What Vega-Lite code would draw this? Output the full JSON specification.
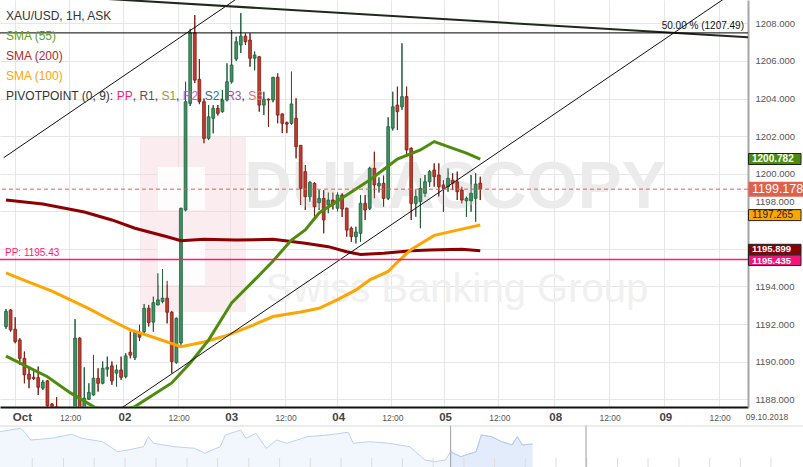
{
"$schema": "https://vega.github.io/schema/vega-lite/v6.json",
"width": 748,
"height": 407,
"autosize": {"type": "none"},
"padding": {"left": 0, "top": 0, "right": 55, "bottom": 60},
"background": "#ffffff",
"config": {"view": {"stroke": null}, "font": "Liberation Sans"},
"datasets": {
"candles": [
{"i":0,"o":1191.87,"h":1192.8,"l":1191.75,"c":1192.67},
{"i":1,"o":1192.75,"h":1192.8,"l":1191.6,"c":1191.69},
{"i":2,"o":1191.73,"h":1192.36,"l":1190.98,"c":1191.07},
{"i":3,"o":1191.16,"h":1191.25,"l":1189.83,"c":1190.18},
{"i":4,"o":1190.18,"h":1190.54,"l":1188.85,"c":1189.3},
{"i":5,"o":1189.33,"h":1189.74,"l":1188.59,"c":1189.07},
{"i":6,"o":1189.17,"h":1189.56,"l":1189.03,"c":1189.1},
{"i":7,"o":1189.15,"h":1189.74,"l":1188.23,"c":1188.64},
{"i":8,"o":1188.59,"h":1189.03,"l":1188.5,"c":1188.91},
{"i":9,"o":1188.98,"h":1189.03,"l":1187.5,"c":1187.65},
{"i":10,"o":1187.74,"h":1187.8,"l":1187.2,"c":1187.61},
{"i":11,"o":1187.6,"h":1188.11,"l":1186.9,"c":1187.2},
{"i":12,"o":1187.2,"h":1187.4,"l":1186.5,"c":1186.8},
{"i":13,"o":1186.8,"h":1187.3,"l":1186.4,"c":1187.0},
{"i":14,"o":1187.0,"h":1187.5,"l":1186.7,"c":1187.3},
{"i":15,"o":1187.3,"h":1192.26,"l":1187.2,"c":1191.25},
{"i":16,"o":1191.25,"h":1191.3,"l":1187.3,"c":1187.5},
{"i":17,"o":1187.5,"h":1189.7,"l":1187.4,"c":1188.06},
{"i":18,"o":1188.0,"h":1188.85,"l":1187.97,"c":1188.37},
{"i":19,"o":1188.23,"h":1190.36,"l":1188.2,"c":1189.12},
{"i":20,"o":1189.12,"h":1189.65,"l":1188.41,"c":1188.85},
{"i":21,"o":1188.85,"h":1190.01,"l":1188.8,"c":1189.65},
{"i":22,"o":1189.6,"h":1190.27,"l":1189.21,"c":1189.7},
{"i":23,"o":1189.78,"h":1190.01,"l":1188.77,"c":1188.98},
{"i":24,"o":1189.39,"h":1189.83,"l":1188.68,"c":1189.56},
{"i":25,"o":1189.56,"h":1190.27,"l":1189.03,"c":1189.17},
{"i":26,"o":1189.21,"h":1190.45,"l":1189.12,"c":1190.31},
{"i":27,"o":1190.5,"h":1191.6,"l":1190.18,"c":1190.35},
{"i":28,"o":1190.22,"h":1191.69,"l":1190.09,"c":1191.57},
{"i":29,"o":1191.57,"h":1191.96,"l":1191.1,"c":1191.3},
{"i":30,"o":1191.6,"h":1193.07,"l":1191.51,"c":1192.84},
{"i":31,"o":1192.84,"h":1193.02,"l":1191.87,"c":1192.08},
{"i":32,"o":1192.1,"h":1193.46,"l":1191.6,"c":1193.14},
{"i":33,"o":1193.02,"h":1194.7,"l":1193.0,"c":1193.29},
{"i":34,"o":1193.2,"h":1194.93,"l":1193.11,"c":1193.38},
{"i":35,"o":1193.38,"h":1194.3,"l":1192.04,"c":1192.63},
{"i":36,"o":1192.63,"h":1192.7,"l":1189.39,"c":1190.01},
{"i":37,"o":1189.95,"h":1192.35,"l":1189.9,"c":1192.31},
{"i":38,"o":1191.0,"h":1198.2,"l":1190.9,"c":1198.16},
{"i":39,"o":1198.07,"h":1204.89,"l":1198.0,"c":1203.83},
{"i":40,"o":1203.74,"h":1207.7,"l":1203.6,"c":1207.5},
{"i":41,"o":1207.5,"h":1208.44,"l":1204.82,"c":1204.98},
{"i":42,"o":1205.02,"h":1206.1,"l":1203.7,"c":1203.83},
{"i":43,"o":1203.83,"h":1204.0,"l":1201.62,"c":1201.88},
{"i":44,"o":1201.88,"h":1203.65,"l":1201.79,"c":1203.03},
{"i":45,"o":1202.95,"h":1203.65,"l":1202.15,"c":1203.48},
{"i":46,"o":1203.48,"h":1203.65,"l":1203.1,"c":1203.21},
{"i":47,"o":1203.3,"h":1204.45,"l":1203.25,"c":1203.92},
{"i":48,"o":1203.92,"h":1205.87,"l":1203.85,"c":1204.89},
{"i":49,"o":1204.89,"h":1207.64,"l":1204.8,"c":1205.78},
{"i":50,"o":1206.1,"h":1207.29,"l":1206.0,"c":1207.02},
{"i":51,"o":1206.85,"h":1208.55,"l":1206.42,"c":1207.32},
{"i":52,"o":1207.32,"h":1207.46,"l":1206.85,"c":1207.02},
{"i":53,"o":1207.11,"h":1207.47,"l":1205.69,"c":1206.14},
{"i":54,"o":1206.14,"h":1206.5,"l":1205.5,"c":1206.31},
{"i":55,"o":1206.22,"h":1206.25,"l":1203.3,"c":1203.65},
{"i":56,"o":1203.65,"h":1204.36,"l":1203.12,"c":1203.96},
{"i":57,"o":1203.96,"h":1204.0,"l":1202.5,"c":1203.92},
{"i":58,"o":1203.92,"h":1205.15,"l":1203.8,"c":1205.13},
{"i":59,"o":1205.13,"h":1205.34,"l":1202.68,"c":1203.12},
{"i":60,"o":1203.18,"h":1203.2,"l":1202.16,"c":1202.68},
{"i":61,"o":1202.71,"h":1202.77,"l":1202.16,"c":1202.64},
{"i":62,"o":1202.68,"h":1205.43,"l":1202.6,"c":1203.71},
{"i":63,"o":1202.95,"h":1204.01,"l":1200.82,"c":1201.44},
{"i":64,"o":1201.51,"h":1201.51,"l":1198.34,"c":1199.22},
{"i":65,"o":1200.11,"h":1200.46,"l":1198.07,"c":1198.78},
{"i":66,"o":1198.78,"h":1199.6,"l":1198.5,"c":1199.54},
{"i":67,"o":1199.49,"h":1199.54,"l":1197.63,"c":1198.24},
{"i":68,"o":1198.46,"h":1199.13,"l":1198.07,"c":1198.69},
{"i":69,"o":1198.69,"h":1199.13,"l":1196.83,"c":1197.54},
{"i":70,"o":1198.34,"h":1199.0,"l":1197.9,"c":1198.6},
{"i":71,"o":1198.6,"h":1199.0,"l":1198.1,"c":1198.34},
{"i":72,"o":1198.16,"h":1199.0,"l":1198.0,"c":1198.87},
{"i":73,"o":1198.87,"h":1198.95,"l":1197.7,"c":1198.12},
{"i":74,"o":1198.16,"h":1198.2,"l":1196.65,"c":1197.0},
{"i":75,"o":1197.1,"h":1197.18,"l":1196.38,"c":1196.65},
{"i":76,"o":1196.65,"h":1197.18,"l":1196.29,"c":1196.9},
{"i":77,"o":1196.83,"h":1198.87,"l":1196.38,"c":1198.43},
{"i":78,"o":1198.42,"h":1198.87,"l":1197.54,"c":1198.07},
{"i":79,"o":1198.16,"h":1200.37,"l":1198.07,"c":1200.29},
{"i":80,"o":1200.29,"h":1201.17,"l":1198.69,"c":1199.4},
{"i":81,"o":1199.35,"h":1199.8,"l":1199.0,"c":1199.49},
{"i":82,"o":1199.49,"h":1199.9,"l":1198.24,"c":1198.69},
{"i":83,"o":1198.69,"h":1203.0,"l":1198.6,"c":1202.5},
{"i":84,"o":1202.42,"h":1204.36,"l":1202.3,"c":1203.56},
{"i":85,"o":1203.65,"h":1204.63,"l":1202.32,"c":1203.3},
{"i":86,"o":1203.56,"h":1206.94,"l":1203.4,"c":1204.1},
{"i":87,"o":1204.1,"h":1204.63,"l":1200.9,"c":1201.26},
{"i":88,"o":1201.35,"h":1201.4,"l":1197.54,"c":1198.42},
{"i":89,"o":1198.42,"h":1199.13,"l":1197.71,"c":1198.78},
{"i":90,"o":1198.51,"h":1199.76,"l":1197.1,"c":1199.22},
{"i":91,"o":1198.96,"h":1199.93,"l":1198.76,"c":1199.57},
{"i":92,"o":1199.57,"h":1200.2,"l":1199.3,"c":1200.11},
{"i":93,"o":1200.2,"h":1200.55,"l":1199.31,"c":1199.84},
{"i":94,"o":1199.93,"h":1200.55,"l":1198.78,"c":1199.31},
{"i":95,"o":1199.4,"h":1199.66,"l":1197.98,"c":1199.22},
{"i":96,"o":1199.31,"h":1200.29,"l":1199.04,"c":1199.76},
{"i":97,"o":1199.66,"h":1200.02,"l":1199.13,"c":1199.49},
{"i":98,"o":1199.57,"h":1200.11,"l":1198.6,"c":1199.04},
{"i":99,"o":1199.13,"h":1199.31,"l":1198.42,"c":1198.6},
{"i":100,"o":1198.56,"h":1198.78,"l":1197.71,"c":1198.69},
{"i":101,"o":1198.56,"h":1199.93,"l":1197.98,"c":1198.96},
{"i":102,"o":1198.69,"h":1200.02,"l":1197.45,"c":1199.45},
{"i":103,"o":1199.5,"h":1199.84,"l":1198.6,"c":1199.18}
],
"sma55": [
{"i":0,"v":1190.3},{"i":9,"v":1189.2},{"i":14,"v":1188.34},{"i":19,"v":1187.61},{"i":23,"v":1187.22},{"i":28,"v":1187.61},{"i":36,"v":1188.87},{"i":40,"v":1189.93},{"i":44,"v":1191.15},{"i":49,"v":1193.12},{"i":54,"v":1194.35},{"i":58,"v":1195.36},{"i":62,"v":1196.47},{"i":65,"v":1197.01},{"i":68,"v":1197.91},{"i":73,"v":1198.71},{"i":79,"v":1199.67},{"i":85,"v":1200.78},{"i":90,"v":1201.26},{"i":93,"v":1201.71},{"i":96,"v":1201.44},{"i":100,"v":1201.1},{"i":103,"v":1200.78}
],
"sma100": [
{"i":0,"v":1194.72},{"i":4,"v":1194.33},{"i":10,"v":1193.75},{"i":18,"v":1192.82},{"i":23,"v":1192.18},{"i":27,"v":1191.69},{"i":32,"v":1191.3},{"i":38,"v":1190.8},{"i":43,"v":1191.05},{"i":48,"v":1191.4},{"i":53,"v":1191.88},{"i":58,"v":1192.4},{"i":64,"v":1192.64},{"i":68,"v":1192.84},{"i":72,"v":1193.3},{"i":76,"v":1193.82},{"i":79,"v":1194.35},{"i":83,"v":1194.8},{"i":85,"v":1195.3},{"i":88,"v":1195.97},{"i":93,"v":1196.72},{"i":98,"v":1197.0},{"i":103,"v":1197.27}
],
"sma200": [
{"i":0,"v":1198.6},{"i":8,"v":1198.39},{"i":17,"v":1197.96},{"i":23,"v":1197.54},{"i":28,"v":1197.1},{"i":35,"v":1196.65},{"i":38,"v":1196.44},{"i":43,"v":1196.51},{"i":50,"v":1196.47},{"i":58,"v":1196.51},{"i":65,"v":1196.3},{"i":70,"v":1196.12},{"i":74,"v":1195.85},{"i":77,"v":1195.7},{"i":82,"v":1195.77},{"i":88,"v":1195.9},{"i":92,"v":1195.94},{"i":99,"v":1195.98},{"i":103,"v":1195.9}
],
"trend": [
{"line":"up1","i":-0.5,"p":1200.85},{"line":"up1","i":52,"p":1209.62},
{"line":"up2","i":20,"p":1186.69},{"line":"up2","i":162,"p":1210.31},
{"line":"down","i":21,"p":1209.31},{"line":"down","i":162,"p":1207.24}
],
"levels": [
{"name":"fib50","p":1207.49,"label":"50.00 % (1207.49)"},
{"name":"PP","p":1195.435,"label":"PP: 1195.43"},
{"name":"last","p":1199.178,"label":"1199.178"}
],
"boxes": [
{"name":"sma55","p":1200.782},
{"name":"last","p":1199.178},
{"name":"sma100","p":1197.265},
{"name":"sma200","p":1195.899},
{"name":"pp","p":1195.435}
],
"nav": [
{"n":0,"v":35.3},{"n":1.27,"v":37},{"n":2.55,"v":38.7},{"n":3.19,"v":33.7},{"n":3.82,"v":27},{"n":6.38,"v":28.7},{"n":8.93,"v":32.7},{"n":10.2,"v":28.7},{"n":12.75,"v":25.3},{"n":14.67,"v":15.3},{"n":15.94,"v":17},{"n":17.86,"v":20.3},{"n":18.49,"v":30.3},{"n":19.13,"v":23.7},{"n":21.68,"v":20.3},{"n":24.23,"v":18.7},{"n":25.5,"v":13.7},{"n":27.42,"v":20.3},{"n":28.06,"v":32},{"n":29.33,"v":35.3},{"n":29.97,"v":37},{"n":30.61,"v":28.7},{"n":31.88,"v":33.7},{"n":33.16,"v":18.7},{"n":34.43,"v":27},{"n":35.71,"v":23.7},{"n":38.26,"v":30.3},{"n":40.81,"v":32},{"n":43.36,"v":34.7},{"n":44.0,"v":23.7},{"n":45.91,"v":25.3},{"n":48.46,"v":23.7},{"n":51.01,"v":20.3},{"n":52.93,"v":7},{"n":54.2,"v":5.3},{"n":55.48,"v":7},{"n":56.11,"v":15.3},{"n":57.39,"v":10.3},{"n":59.3,"v":15.3},{"n":59.94,"v":32},{"n":61.22,"v":30.3},{"n":62.49,"v":25.3},{"n":63.76,"v":22},{"n":64.41,"v":30.3},{"n":65.04,"v":22},{"n":66.31,"v":23}
],
"navticks": [
{"n":4.02},{"n":7.91},{"n":11.73},{"n":15.57},{"n":19.43},{"n":23.29},{"n":27.1},{"n":30.98},{"n":34.82},{"n":38.64},{"n":42.47},{"n":46.29},{"n":50.12},{"n":53.95},{"n":57.78},{"n":61.59},{"n":65.42},{"n":69.24},{"n":73.08},{"n":76.9},{"n":80.7},{"n":84.56},{"n":88.38},{"n":92.2},{"n":96.01}
]
},
"layer": [
{
"layer": [
{
"data": {"name": "candles"},
"mark": {"type": "rule", "strokeWidth": 1, "clip": true},
"encoding": {
"x": {"field": "i", "type": "quantitative", "scale": {"domain": [-0.214, 160.06], "nice": false, "zero": false},
"axis": {"values": [1.93,13.71,25.5,37.28,48.7,60.49,71.93,83.71,95.14,106.92,119.07,130.86,142.98,154.77], "title": null, "grid": true, "gridColor": "#e6e6e6", "ticks": false, "tickSize": 0, "domainColor": "#111111", "domainWidth": 2,
"labelExpr": "['Oct','12:00','02','12:00','03','12:00','04','12:00','05','12:00','08','12:00','09','12:00'][indexof([1.93,13.71,25.5,37.28,48.7,60.49,71.93,83.71,95.14,106.92,119.07,130.86,142.98,154.77], datum.value)]",
"labelFontSize": {"condition": {"test": "indexof([13.71,37.28,60.49,83.71,106.92,130.86,154.77], datum.value) >= 0", "value": 8.5}, "value": 11.5},
"labelFontWeight": {"condition": {"test": "indexof([13.71,37.28,60.49,83.71,106.92,130.86,154.77], datum.value) >= 0", "value": "normal"}, "value": "bold"},
"labelColor": {"condition": {"test": "indexof([13.71,37.28,60.49,83.71,106.92,130.86,154.77], datum.value) >= 0", "value": "#555555"}, "value": "#444444"},
"labelOffset": {"condition": {"test": "datum.value < 5", "value": 7}, "value": 1},
"labelBaseline": "middle", "labelPadding": 10, "labelOverlap": false, "labelFlush": false, "labelBound": false}},
"y": {"field": "l", "type": "quantitative", "scale": {"domain": [1187.59, 1209.24], "nice": false, "zero": false},
"axis": {"orient": "right", "values": [1188,1190,1192,1194,1196,1198,1200,1202,1204,1206,1208], "format": ".3f", "labelExpr": "datum.value == 1196 ? '' : datum.label", "title": null, "grid": true, "gridColor": "#e6e6e6", "ticks": false, "tickSize": 0, "domainColor": "#a6a6a6", "domainWidth": 2, "labelFontSize": 9.5, "labelColor": "#555555", "labelPadding": 7,
"labelOffset": {"condition": {"test": "datum.value == 1198", "value": -10}, "value": 0}, "labelOverlap": false, "labelFlush": false}},
"y2": {"field": "h"},
"color": {"condition": {"test": "datum.c >= datum.o", "value": "#1f5e3b"}, "value": "#7b2015"}
}
},
{"data": {"values": [{}]}, "mark": {"type": "rect", "x": 140, "x2": 246, "y": 137, "y2": 312, "color": "#f6cfd6", "opacity": 0.4}, "encoding": {}},
{"data": {"values": [{}]}, "mark": {"type": "rect", "x": 158, "x2": 205, "y": 167, "y2": 210, "color": "#ffffff", "opacity": 0.85}, "encoding": {}},
{"data": {"values": [{}]}, "mark": {"type": "rect", "x": 158, "x2": 205, "y": 240, "y2": 285, "color": "#ffffff", "opacity": 0.85}, "encoding": {}},
{"data": {"values": [{"t": "DUKASCOPY"}]}, "mark": {"type": "text", "x": 455, "y": 188, "align": "center", "baseline": "middle", "font": "Liberation Sans", "fontWeight": "bold", "fontSize": 66, "color": "#ebebeb"}, "encoding": {"text": {"field": "t"}}},
{"data": {"values": [{"t": "Swiss Banking Group"}]}, "mark": {"type": "text", "x": 457, "y": 290, "align": "center", "baseline": "middle", "font": "Liberation Sans", "fontSize": 40, "color": "#f0f0f0"}, "encoding": {"text": {"field": "t"}}},
{
"data": {"name": "candles"},
"mark": {"type": "rule", "strokeWidth": 1, "clip": true},
"encoding": {
"x": {"field": "i", "type": "quantitative"},
"y": {"field": "l", "type": "quantitative"},
"y2": {"field": "h"},
"color": {"condition": {"test": "datum.c >= datum.o", "value": "#1f5e3b"}, "value": "#7b2015"}
}
},
{
"data": {"name": "candles"},
"mark": {"type": "bar", "size": 2.8, "strokeWidth": 0.8, "clip": true},
"encoding": {
"x": {"field": "i", "type": "quantitative"},
"y": {"field": "o", "type": "quantitative"},
"y2": {"field": "c"},
"fill": {"condition": {"test": "datum.c >= datum.o", "value": "#3d9162"}, "value": "#c23b2c"},
"stroke": {"condition": {"test": "datum.c >= datum.o", "value": "#1f5e3b"}, "value": "#7b2015"}
}
},
{"data": {"name": "sma200"}, "mark": {"type": "line", "color": "#8e0000", "strokeWidth": 3, "clip": true},
"encoding": {"x": {"field": "i", "type": "quantitative"}, "y": {"field": "v", "type": "quantitative"}}},
{"data": {"name": "sma100"}, "mark": {"type": "line", "color": "#ffa500", "strokeWidth": 3, "clip": true},
"encoding": {"x": {"field": "i", "type": "quantitative"}, "y": {"field": "v", "type": "quantitative"}}},
{"data": {"name": "sma55"}, "mark": {"type": "line", "color": "#4d8c0c", "strokeWidth": 3, "clip": true},
"encoding": {"x": {"field": "i", "type": "quantitative"}, "y": {"field": "v", "type": "quantitative"}}},
{"data": {"name": "trend"}, "transform": [{"filter": "datum.line != 'down'"}], "mark": {"type": "line", "color": "#111111", "strokeWidth": 1, "clip": true},
"encoding": {"x": {"field": "i", "type": "quantitative"}, "y": {"field": "p", "type": "quantitative"}, "detail": {"field": "line"}}},
{"data": {"name": "trend"}, "transform": [{"filter": "datum.line == 'down'"}], "mark": {"type": "line", "color": "#1c2a1c", "strokeWidth": 2, "clip": true},
"encoding": {"x": {"field": "i", "type": "quantitative"}, "y": {"field": "p", "type": "quantitative"}}},
{"data": {"name": "levels"}, "transform": [{"filter": "datum.name == 'fib50'"}], "mark": {"type": "rule", "color": "#000000", "strokeWidth": 1},
"encoding": {"y": {"field": "p", "type": "quantitative"}}},
{"data": {"name": "levels"}, "transform": [{"filter": "datum.name == 'fib50'"}], "mark": {"type": "text", "x": 744, "align": "right", "baseline": "bottom", "dy": -2, "fontSize": 10, "color": "#111111"},
"encoding": {"y": {"field": "p", "type": "quantitative"}, "text": {"field": "label"}}},
{"data": {"name": "levels"}, "transform": [{"filter": "datum.name == 'last'"}], "mark": {"type": "rule", "color": "#e0604b", "strokeWidth": 1, "strokeDash": [4, 3]},
"encoding": {"y": {"field": "p", "type": "quantitative"}}},
{"data": {"name": "levels"}, "transform": [{"filter": "datum.name == 'PP'"}], "mark": {"type": "rule", "color": "#ff1a75", "strokeWidth": 1.5},
"encoding": {"y": {"field": "p", "type": "quantitative"}}},
{"data": {"name": "levels"}, "transform": [{"filter": "datum.name == 'PP'"}], "mark": {"type": "text", "x": 5, "align": "left", "baseline": "bottom", "dy": -2, "fontSize": 10, "color": "#ff1a75"},
"encoding": {"y": {"field": "p", "type": "quantitative"}, "text": {"field": "label"}}},
{"data": {"values": [{"t": "XAU/USD, 1H, ASK"}]}, "mark": {"type": "text", "x": 6, "y": 16, "align": "left", "baseline": "middle", "fontSize": 12, "color": "#333333"}, "encoding": {"text": {"field": "t"}}},
{"data": {"values": [{"t": "SMA (55)"}]}, "mark": {"type": "text", "x": 6, "y": 36, "align": "left", "baseline": "middle", "fontSize": 12, "color": "#5fa11c"}, "encoding": {"text": {"field": "t"}}},
{"data": {"values": [{"t": "SMA (200)"}]}, "mark": {"type": "text", "x": 6, "y": 56, "align": "left", "baseline": "middle", "fontSize": 12, "color": "#b22a2a"}, "encoding": {"text": {"field": "t"}}},
{"data": {"values": [{"t": "SMA (100)"}]}, "mark": {"type": "text", "x": 6, "y": 76, "align": "left", "baseline": "middle", "fontSize": 12, "color": "#ffa500"}, "encoding": {"text": {"field": "t"}}},
{"data": {"values": [{"t": "PIVOTPOINT (0, 9):"}]}, "mark": {"type": "text", "x": 6, "y": 96, "align": "left", "baseline": "middle", "fontSize": 12, "color": "#333333"}, "encoding": {"text": {"field": "t"}}},
{"data": {"values": [{"t": "PP"}]}, "mark": {"type": "text", "x": 116.7, "y": 96, "align": "left", "baseline": "middle", "fontSize": 12, "color": "#ff1a75"}, "encoding": {"text": {"field": "t"}}},
{"data": {"values": [{"t": ","}]}, "mark": {"type": "text", "x": 132.7, "y": 96, "align": "left", "baseline": "middle", "fontSize": 12, "color": "#333333"}, "encoding": {"text": {"field": "t"}}},
{"data": {"values": [{"t": "R1"}]}, "mark": {"type": "text", "x": 139.4, "y": 96, "align": "left", "baseline": "middle", "fontSize": 12, "color": "#555555"}, "encoding": {"text": {"field": "t"}}},
{"data": {"values": [{"t": ","}]}, "mark": {"type": "text", "x": 154.7, "y": 96, "align": "left", "baseline": "middle", "fontSize": 12, "color": "#333333"}, "encoding": {"text": {"field": "t"}}},
{"data": {"values": [{"t": "S1"}]}, "mark": {"type": "text", "x": 161.4, "y": 96, "align": "left", "baseline": "middle", "fontSize": 12, "color": "#999933"}, "encoding": {"text": {"field": "t"}}},
{"data": {"values": [{"t": ","}]}, "mark": {"type": "text", "x": 176.1, "y": 96, "align": "left", "baseline": "middle", "fontSize": 12, "color": "#333333"}, "encoding": {"text": {"field": "t"}}},
{"data": {"values": [{"t": "R2"}]}, "mark": {"type": "text", "x": 182.8, "y": 96, "align": "left", "baseline": "middle", "fontSize": 12, "color": "#a86cc8"}, "encoding": {"text": {"field": "t"}}},
{"data": {"values": [{"t": ","}]}, "mark": {"type": "text", "x": 198.1, "y": 96, "align": "left", "baseline": "middle", "fontSize": 12, "color": "#333333"}, "encoding": {"text": {"field": "t"}}},
{"data": {"values": [{"t": "S2"}]}, "mark": {"type": "text", "x": 204.8, "y": 96, "align": "left", "baseline": "middle", "fontSize": 12, "color": "#2f6e8c"}, "encoding": {"text": {"field": "t"}}},
{"data": {"values": [{"t": ","}]}, "mark": {"type": "text", "x": 219.5, "y": 96, "align": "left", "baseline": "middle", "fontSize": 12, "color": "#333333"}, "encoding": {"text": {"field": "t"}}},
{"data": {"values": [{"t": "R3"}]}, "mark": {"type": "text", "x": 226.2, "y": 96, "align": "left", "baseline": "middle", "fontSize": 12, "color": "#9b4fb5"}, "encoding": {"text": {"field": "t"}}},
{"data": {"values": [{"t": ","}]}, "mark": {"type": "text", "x": 241.5, "y": 96, "align": "left", "baseline": "middle", "fontSize": 12, "color": "#333333"}, "encoding": {"text": {"field": "t"}}},
{"data": {"values": [{"t": "S3"}]}, "mark": {"type": "text", "x": 248.2, "y": 96, "align": "left", "baseline": "middle", "fontSize": 12, "color": "#e06a6a"}, "encoding": {"text": {"field": "t"}}},
{"data": {"name": "boxes"}, "transform": [{"filter": "datum.name == 'sma55'"}], "mark": {"type": "rect", "x": 748.5, "x2": 801, "yOffset": -5.5, "y2Offset": 5.5, "fill": "#4b8c0d", "stroke": "#222222", "strokeWidth": 1},
"encoding": {"y": {"field": "p", "type": "quantitative"}, "y2": {"field": "p"}}},
{"data": {"name": "boxes"}, "transform": [{"filter": "datum.name == 'sma55'"}], "mark": {"type": "text", "x": 752, "align": "left", "baseline": "middle", "fontSize": 10, "fontWeight": "bold", "color": "#ffffff"},
"encoding": {"y": {"field": "p", "type": "quantitative"}, "text": {"field": "p", "format": ".3f"}}},
{"data": {"name": "boxes"}, "transform": [{"filter": "datum.name == 'last'"}], "mark": {"type": "rect", "x": 748.5, "x2": 803, "yOffset": -7.5, "y2Offset": 7.5, "fill": "#e0604b"},
"encoding": {"y": {"field": "p", "type": "quantitative"}, "y2": {"field": "p"}}},
{"data": {"name": "boxes"}, "transform": [{"filter": "datum.name == 'last'"}], "mark": {"type": "text", "x": 752, "align": "left", "baseline": "middle", "fontSize": 12.5, "color": "#ffffff"},
"encoding": {"y": {"field": "p", "type": "quantitative"}, "text": {"field": "p", "format": ".3f"}}},
{"data": {"name": "boxes"}, "transform": [{"filter": "datum.name == 'sma100'"}], "mark": {"type": "rect", "x": 748.5, "x2": 801, "yOffset": -15.5, "y2Offset": -4.5, "fill": "#ffa500", "stroke": "#222222", "strokeWidth": 1},
"encoding": {"y": {"field": "p", "type": "quantitative"}, "y2": {"field": "p"}}},
{"data": {"name": "boxes"}, "transform": [{"filter": "datum.name == 'sma100'"}], "mark": {"type": "text", "x": 752, "yOffset": -10, "align": "left", "baseline": "middle", "fontSize": 10, "color": "#222222"},
"encoding": {"y": {"field": "p", "type": "quantitative"}, "text": {"field": "p", "format": ".3f"}}},
{"data": {"name": "boxes"}, "transform": [{"filter": "datum.name == 'sma200'"}], "mark": {"type": "rect", "x": 748.5, "x2": 801, "yOffset": -6.5, "y2Offset": 4, "fill": "#8b0000", "stroke": "#222222", "strokeWidth": 1},
"encoding": {"y": {"field": "p", "type": "quantitative"}, "y2": {"field": "p"}}},
{"data": {"name": "boxes"}, "transform": [{"filter": "datum.name == 'sma200'"}], "mark": {"type": "text", "x": 752, "yOffset": -1.5, "align": "left", "baseline": "middle", "fontSize": 9.5, "fontWeight": "bold", "color": "#ffffff"},
"encoding": {"y": {"field": "p", "type": "quantitative"}, "text": {"field": "p", "format": ".3f"}}},
{"data": {"name": "boxes"}, "transform": [{"filter": "datum.name == 'pp'"}], "mark": {"type": "rect", "x": 748.5, "x2": 801, "yOffset": -4.5, "y2Offset": 6, "fill": "#f2157a", "stroke": "#222222", "strokeWidth": 1},
"encoding": {"y": {"field": "p", "type": "quantitative"}, "y2": {"field": "p"}}},
{"data": {"name": "boxes"}, "transform": [{"filter": "datum.name == 'pp'"}], "mark": {"type": "text", "x": 752, "yOffset": 1, "align": "left", "baseline": "middle", "fontSize": 9.5, "fontWeight": "bold", "color": "#ffffff"},
"encoding": {"y": {"field": "p", "type": "quantitative"}, "text": {"field": "p", "format": ".3f"}}},
{"data": {"values": [{"t": "09.10.2018"}]}, "mark": {"type": "text", "x": 767, "y": 417, "align": "center", "baseline": "middle", "fontSize": 8.5, "color": "#555555"}, "encoding": {"text": {"field": "t"}}}
]
},
{
"layer": [
{"data": {"name": "nav"}, "mark": {"type": "area", "color": "#edf3fd", "line": {"color": "#bcd2f2", "strokeWidth": 1}},
"encoding": {"x": {"field": "n", "type": "quantitative", "scale": {"domain": [0, 100], "range": [0, 803], "nice": false, "zero": false}, "axis": null}, "y": {"field": "v", "type": "quantitative", "scale": {"domain": [0, 42], "range": [467, 425], "nice": false, "zero": false}, "axis": null}, "y2": {"datum": 0}}},
{"data": {"name": "nav"}, "transform": [{"filter": "datum.n >= 56.11"}], "mark": {"type": "area", "color": "#dce7f9", "line": {"color": "#b4cbef", "strokeWidth": 1}},
"encoding": {"x": {"field": "n", "type": "quantitative", "axis": null}, "y": {"field": "v", "type": "quantitative", "axis": null}, "y2": {"datum": 0}}},
{"data": {"name": "navticks"}, "mark": {"type": "rule", "color": "#dddddd", "strokeWidth": 1},
"encoding": {"x": {"field": "n", "type": "quantitative", "axis": null}, "y": {"datum": 0, "type": "quantitative", "axis": null}, "y2": {"datum": 9}}},
{"data": {"values": [{"n": 56.11}, {"n": 72.98}]}, "mark": {"type": "rule", "color": "#ababab", "strokeWidth": 1.2},
"encoding": {"x": {"field": "n", "type": "quantitative", "axis": null}, "y": {"datum": 0, "type": "quantitative", "axis": null}, "y2": {"datum": 42}}},
{"data": {"values": [{}]}, "mark": {"type": "rule", "color": "#dadada", "strokeWidth": 1},
"encoding": {"x": {"datum": 0, "type": "quantitative", "axis": null}, "x2": {"datum": 100}, "y": {"datum": 41, "type": "quantitative", "axis": null}}}
]
}
],
"resolve": {"scale": {"x": "independent", "y": "independent"}}
}
